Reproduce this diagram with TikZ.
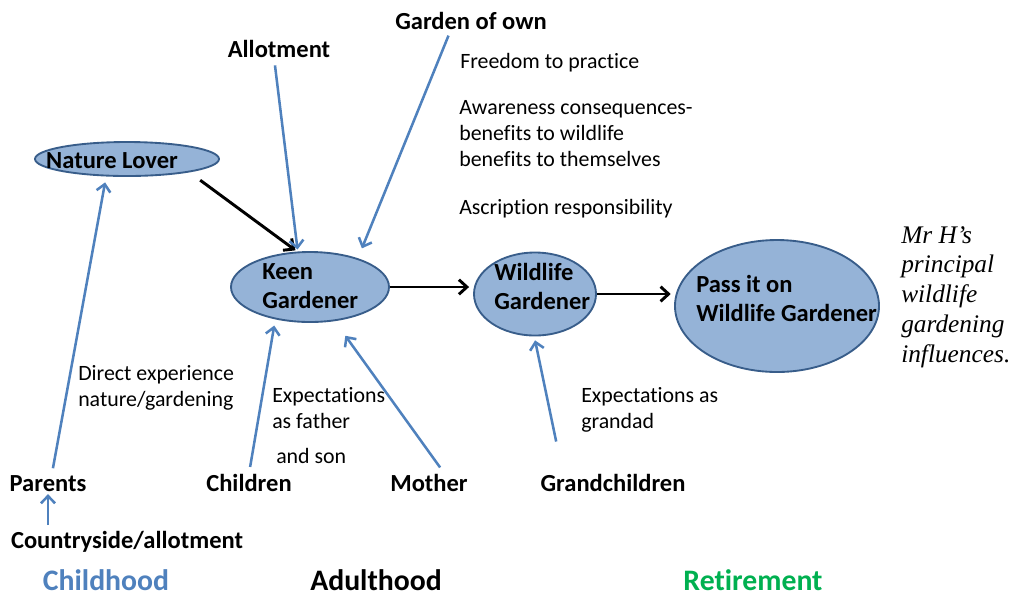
\documentclass[tikz,border=0pt]{standalone}
\usepackage{fontspec}
\setmainfont[Ligatures=NoCommon]{Carlito}
\newfontfamily\serifit{Liberation Serif}
\usetikzlibrary{arrows.meta,shapes.geometric,calc}
\definecolor{lineblue}{RGB}{79,129,189}
\definecolor{ellfill}{RGB}{149,179,215}
\definecolor{elldraw}{RGB}{56,93,138}
\definecolor{retgreen}{RGB}{0,176,80}
\tikzset{
  lbl/.style={font=\fontsize{18.4}{21.5}\selectfont\bfseries, inner sep=0pt},
  ann/.style={font=\fontsize{16.4}{19.5}\selectfont, inner sep=0pt, align=left},
  phase/.style={font=\fontsize{22.3}{26}\selectfont\bfseries, inner sep=0pt},
  ell/.style={ellipse, draw=elldraw, fill=ellfill, line width=1.4pt, inner sep=0pt},
  bluearr/.style={draw=lineblue, line width=1.9pt, -{Straight Barb[length=5.5pt,width=10.5pt]}},
  blkarr/.style={draw=black, line width=2.2pt, -{Straight Barb[length=6pt,width=11pt]}},
}
\begin{document}
\begin{tikzpicture}[x=0.75pt,y=-0.75pt]
\useasboundingbox (0,0) rectangle (1012,594);

% ellipses
\node[ell, minimum width=138pt, minimum height=25.5pt] (nl) at (127,159) {};
\node[ell, minimum width=118.5pt, minimum height=52.5pt] (keen) at (310,287) {};
\node[ell, minimum width=91.5pt, minimum height=62.25pt] (wild) at (535,294) {};
\node[ell, minimum width=153pt, minimum height=99pt] (pass) at (777,306) {};

\node[lbl, anchor=base] (nlT) at (112,168) {Nature Lover};
\node[lbl, align=left, anchor=base west] (keenT) at (262,308) {Keen\\Gardener};
\node[lbl, align=left, anchor=base west] (wildT) at (494,309) {Wildlife\\Gardener};
\node[lbl, align=left, anchor=base west] (passT) at (696,321) {Pass it on\\Wildlife Gardener};

% labels
\node[lbl, anchor=base] (gown) at (471,29) {Garden of own};
\node[lbl, anchor=base] (allot) at (279,57) {Allotment};
\node[lbl, anchor=base] (parents) at (48,491) {Parents};
\node[lbl, anchor=base] (children) at (249,491) {Children};
\node[lbl, anchor=base] (mother) at (429,491) {Mother};
\node[lbl, anchor=base] (gc) at (613,491) {Grandchildren};
\node[lbl, anchor=base] (country) at (127,548) {Countryside/allotment};

% phases
\node[phase, anchor=base, text=lineblue] (childhood) at (106,590) {Childhood};
\node[phase, anchor=base] (adulthood) at (376,590) {Adulthood};
\node[phase, anchor=base, text=retgreen] (retirement) at (753,590) {Retirement};

% annotations
\node[ann, anchor=base west] (freedom) at (460,68) {Freedom to practice};
\node[ann, anchor=base west] (aware) at (459,166) {Awareness consequences-\\benefits to wildlife\\benefits to themselves};
\node[ann, anchor=base west] (ascr) at (459,214) {Ascription responsibility};
\node[ann, anchor=base west] (direct) at (78,406) {Direct experience\\nature/gardening};
\node[ann, anchor=base west] (expf) at (272,428) {Expectations\\as father};
\node[ann, anchor=base west] (son) at (276,463) {and son};
\node[ann, anchor=base west] (expg) at (581,428) {Expectations as\\grandad};
\node[inner sep=0pt, anchor=base west, align=left, font=\serifit\itshape\fontsize{19}{22.3}\selectfont] (mrh) at (901,362)
  {Mr H’s\\principal\\wildlife\\gardening\\influences.};

% connectors
\draw[blkarr, shorten <=10pt, shorten >=1.5pt] (nl.-12.6) -- (keen.110);
\draw[bluearr, shorten <=6pt, shorten >=1.5pt] ([xshift=-3.75pt]allot.south) -- (keen.109);
\draw[bluearr, shorten <=5pt, shorten >=8pt] ([xshift=-15pt]gown.south) -- (keen.31);
\draw[blkarr, shorten >=3pt] (keen.east) -- (keen.east -| wild.west);
\draw[blkarr, shorten >=2.5pt] (wild.east) -- (wild.east -| pass.west);
\draw[bluearr, shorten <=5pt, shorten >=4.5pt] ([xshift=2.8pt]parents.north) -- (nl.220);
\draw[bluearr, shorten <=4pt, shorten >=2pt] (parents.south |- country.north) -- (parents.south);
\draw[bluearr, shorten <=5pt, shorten >=4.7pt] (children.north) -- (keen.223);
\draw[bluearr, shorten <=5.6pt, shorten >=13.5pt] ([xshift=11.6pt]mother.north) -- (keen.-54);
\draw[bluearr, shorten <=24.5pt, shorten >=3pt] ([xshift=-37.6pt]gc.north) -- (wild.-91);
\end{tikzpicture}
\end{document}
